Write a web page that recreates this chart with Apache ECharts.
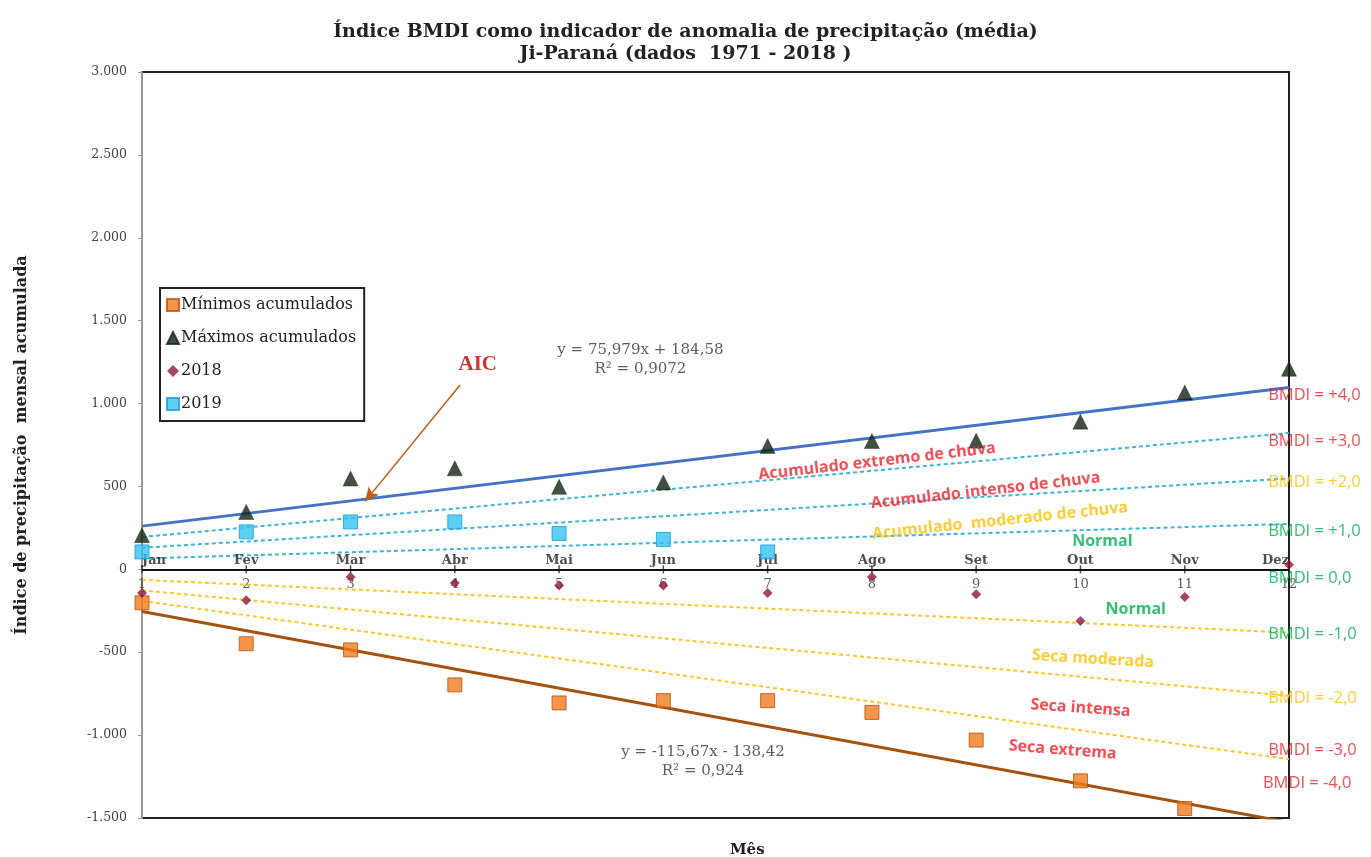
<!DOCTYPE html>
<html>
<head>
<meta charset="utf-8">
<script src="https://cdn.jsdelivr.net/npm/echarts@6/dist/echarts.min.js"></script>
<style>html,body{margin:0;padding:0;background:#fff}#chart{width:1371px;height:857px}</style>
</head>
<body>
<div id="chart"></div>
<script>
// ---- data ----
const monthNames = ['Jan','Fev','Mar','Abr','Mai','Jun','Jul','Ago','Set','Out','Nov','Dez'];
const monthNumbers = [1,2,3,4,5,6,7,8,9,10,11,12];
const minimosAcumulados = [-202,-449,-486,-697,-806,-792,-792,-863,-1030,-1276,-1443,null];
const maximosAcumulados = [206,346,548,609,498,524,744,774,776,891,1066,1210];
const valores2018 = [-143,-187,-46,-83,-97,-97,-143,-46,-151,-312,-167,28];
const valores2019 = [105,226,286,286,216,180,105,null,null,null,null,null];
const yTickValues = [-1500,-1000,-500,0,500,1000,1500,2000,2500,3000];
// trend / BMDI limit lines: values at Jan (x=1) and Dez (x=12)
const trendMaxEnds = [260.6, 1096.3];   // y = 75,979x + 184,58
const trendMinEnds = [-254.1, -1526.5]; // y = -115,67x - 138,42
const bmdiPos3Ends = [195.4, 822.2];
const bmdiPos2Ends = [130.3, 548.2];
const bmdiPos1Ends = [65.1, 274.1];
const bmdiNeg1Ends = [-63.5, -381.6];
const bmdiNeg2Ends = [-127.0, -763.2];
const bmdiNeg3Ends = [-190.6, -1144.9];

const SERIF = '"DejaVu Serif","Liberation Serif",serif';
const SANS = '"Open Sans", Lato, sans-serif';
const RED = '#F0202A', GOLD = '#FFC000', GREEN = '#00B050';

function pts(arr){ return monthNumbers.map((m,i)=>[m, arr[i]]).filter(p=>p[1]!==null); }
function ends(arr){ return [[monthNumbers[0], arr[0]], [monthNumbers[11], arr[1]]]; }
function fmtY(v){
  const s = Math.abs(v).toString().replace(/\B(?=(\d{3})+(?!\d))/g,'.');
  return (v<0?'-':'') + s;
}

// annotations (placed in data coordinates)
const annotations = [
  {t:'Acumulado extremo de chuva', at:[8.05,650], c:RED, r:6.5},
  {t:'Acumulado intenso de chuva', at:[9.09,474], c:RED, r:6.5},
  {t:'Acumulado  moderado de chuva', at:[9.23,293], c:GOLD, r:6},
  {t:'Normal', at:[10.21,171], c:GREEN, r:0},
  {t:'Normal', at:[10.53,-240], c:GREEN, r:0},
  {t:'Seca moderada', at:[10.12,-541], c:GOLD, r:-3.5},
  {t:'Seca intensa', at:[10.0,-837], c:RED, r:-4},
  {t:'Seca extrema', at:[9.83,-1090], c:RED, r:-4.5}
];
const bmdiLabels = [
  {t:'BMDI = +4,0', at:[11.80,1052], c:RED},
  {t:'BMDI = +3,0', at:[11.80,770], c:RED},
  {t:'BMDI = +2,0', at:[11.80,528], c:GOLD},
  {t:'BMDI = +1,0', at:[11.80,227], c:GREEN},
  {t:'BMDI = 0,0', at:[11.80,-54], c:GREEN},
  {t:'BMDI = -1,0', at:[11.80,-390], c:GREEN},
  {t:'BMDI = -2,0', at:[11.80,-778], c:GOLD},
  {t:'BMDI = -3,0', at:[11.80,-1094], c:RED},
  {t:'BMDI = -4,0', at:[11.75,-1291], c:RED}
];
const eqLabels = [
  {t:'y = 75,979x + 184,58\nR² = 0,9072', at:[5.78,1267]},
  {t:'y = -115,67x - 138,42\nR² = 0,924', at:[6.38,-1158]}
];

function dotted(name, arr, color){
  return {name:name, type:'line', data:ends(arr), symbol:'none', silent:true, z:2,
    lineStyle:{color:color, width:2, type:[4,3]}};
}
function textOnly(name, items, z){
  return {name:name, type:'scatter', symbolSize:1, z:z||6, silent:true,
    itemStyle:{color:'rgba(0,0,0,0)'}, data:items};
}

const chart = echarts.init(document.getElementById('chart'), null, {renderer:'canvas'});
chart.setOption({
  backgroundColor:'#ffffff',
  animation:false,
  title:[
    {text:'Índice BMDI como indicador de anomalia de precipitação (média)\nJi-Paraná (dados  1971 - 2018 )',
     left:'center', top:16,
     textStyle:{fontFamily:SERIF, fontWeight:'bold', fontSize:19, color:'#222', lineHeight:22, align:'center'}},
    {text:'Mês', left:725, top:838, textStyle:{fontFamily:SERIF, fontWeight:'bold', fontSize:15, color:'#222'}}
  ],
  legend:{
    data:['Mínimos acumulados','Máximos acumulados','2018','2019'],
    orient:'vertical', left:160, top:288, itemGap:17, itemWidth:12, itemHeight:12,
    padding:[9,8,9,6], borderColor:'#222', borderWidth:2, backgroundColor:'#fff',
    textStyle:{fontFamily:SERIF, fontSize:16, color:'#222', padding:[0,0,0,-3]}
  },
  grid:{left:142, right:82, top:72, bottom:39, show:true, borderColor:'#222', borderWidth:2, backgroundColor:'#fff'},
  xAxis:{type:'value', min:monthNumbers[0], max:monthNumbers[11], interval:1,
     axisLine:{show:false}, axisTick:{show:false}, axisLabel:{show:false}, splitLine:{show:false}},
  yAxis:{type:'value', min:yTickValues[0], max:yTickValues[yTickValues.length-1], interval:500,
    name:'Índice de precipitação  mensal acumulada', nameLocation:'middle', nameGap:112, nameRotate:90,
    nameTextStyle:{fontFamily:SERIF, fontWeight:'bold', fontSize:16, color:'#222'},
    axisLine:{show:true, onZero:false, lineStyle:{color:'#999', width:2}},
    axisTick:{show:true, length:4, lineStyle:{color:'#999'}},
    axisLabel:{fontFamily:SERIF, fontSize:12.5, color:'#444', margin:15, formatter:fmtY},
    splitLine:{show:false}},
  series:[
    dotted('bmdi+3', bmdiPos3Ends, '#3DB4DC'),
    dotted('bmdi+2', bmdiPos2Ends, '#3DB4DC'),
    dotted('bmdi+1', bmdiPos1Ends, '#3DB4DC'),
    dotted('bmdi-1', bmdiNeg1Ends, '#FFC629'),
    dotted('bmdi-2', bmdiNeg2Ends, '#FFC629'),
    dotted('bmdi-3', bmdiNeg3Ends, '#FFC629'),
    {name:'trendMax', type:'line', data:ends(trendMaxEnds), symbol:'none', silent:true, z:3,
     lineStyle:{color:'#4472C4', width:3}},
    {name:'trendMin', type:'line', data:ends(trendMinEnds), symbol:'none', silent:true, z:3, clip:true,
     lineStyle:{color:'#A5520F', width:3},
     markLine:{silent:true, symbol:'none', label:{show:false},
       lineStyle:{color:'#111', width:2, type:'solid'}, data:[{yAxis:0}]}},
    // x-axis ticks at zero line
    {name:'xticks', type:'scatter', silent:true, z:4, symbol:'rect', symbolSize:[1.5,8],
     itemStyle:{color:'#222'}, data:monthNumbers.map(m=>[m,0])},
    // number labels below zero line
    textOnly('xnum', monthNumbers.map(m=>({value:[m,0], label:{show:true, position:'bottom', distance:8,
      formatter:String(m), fontFamily:SERIF, fontSize:13, color:'#333'}})), 4),
    // month labels above zero line
    textOnly('xmes', monthNumbers.map((m,i)=>({value:[m,0], label:{show:true, position:'top', distance:2,
      formatter:monthNames[i], fontFamily:SERIF, fontWeight:'bold', fontSize:13, color:'#222',
      align: i===0 ? 'left' : (i===11 ? 'right' : 'center')}})), 4),
    {name:'Mínimos acumulados', type:'scatter', data:pts(minimosAcumulados), symbol:'rect', symbolSize:14, z:5,
     itemStyle:{color:'#F07A1E', borderColor:'#B8520C', borderWidth:1}},
    {name:'Máximos acumulados', type:'scatter', data:pts(maximosAcumulados), symbol:'triangle', symbolSize:15, z:5,
     itemStyle:{color:'#122612', borderColor:'#122612', borderWidth:0.5}},
    {name:'2018', type:'scatter', data:pts(valores2018), symbol:'diamond', symbolSize:10, z:5,
     itemStyle:{color:'#8E1838'}},
    {name:'2019', type:'scatter', data:pts(valores2019), symbol:'rect', symbolSize:14, z:5,
     itemStyle:{color:'#35C3F2', borderColor:'#1C9AD6', borderWidth:1}},
    Object.assign(textOnly('anotacoes',
      annotations.map(a=>({value:a.at, label:{show:true, position:'inside', formatter:a.t, color:a.c,
        rotate:a.r, fontFamily:SANS, fontWeight:'bold', fontSize:16, align:'center', verticalAlign:'middle'}}))
       .concat(bmdiLabels.map(a=>({value:a.at, label:{show:true, position:'inside', formatter:a.t, color:a.c,
        fontFamily:SANS, fontSize:16.5, align:'left', verticalAlign:'middle'}})))
       .concat(eqLabels.map(a=>({value:a.at, label:{show:true, position:'inside', formatter:a.t, color:'#333',
        fontFamily:SERIF, fontSize:15, lineHeight:19, align:'center', verticalAlign:'middle'}})))
       .concat([{value:[4.22,1238], label:{show:true, position:'inside', formatter:'AIC', color:'#C00000',
        fontFamily:'"Liberation Serif",serif', fontWeight:'bold', fontSize:21, align:'center', verticalAlign:'middle'}}]), 6),
     {markLine:{silent:true, symbol:['none','arrow'], symbolSize:[10,14],
       lineStyle:{color:'#C55A11', width:1.5, type:'solid'}, label:{show:false},
       data:[[{coord:[4.05,1112]},{coord:[3.14,410]}]]}})
  ]
});
</script>
</body>
</html>
